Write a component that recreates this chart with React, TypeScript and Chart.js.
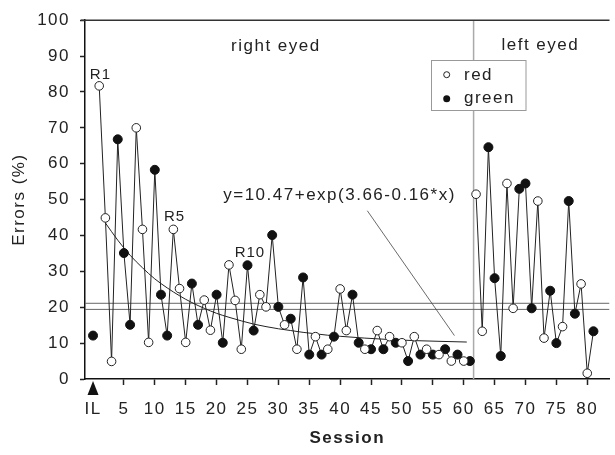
import React, { useEffect, useRef } from "react";
import { Chart, registerables } from "chart.js";

Chart.register(...registerables);

const FONT = '"Liberation Sans", Arial, Helvetica, sans-serif';

// Session 0 = initial learning (IL), green
const ilSession = 0;
const ilValue = 12.1;

// Right-eyed sessions 1..61
const rightStart = 1;
const rightValues = [
  81.7, 44.9, 4.9, 66.8, 35.1, 15.1, 70.0, 41.7, 10.2, 58.3,
  23.5, 12.1, 41.7, 25.2, 10.2, 26.6, 15.1, 22.0, 13.6, 23.5,
  10.1, 31.8, 21.9, 8.3, 31.7, 13.5, 23.5, 20.1, 40.1, 20.1,
  15.1, 16.8, 8.3, 28.3, 6.8, 11.8, 6.8, 8.3, 11.8, 25.1,
  13.5, 23.5, 10.1, 8.3, 8.3, 13.5, 8.3, 11.8, 10.1, 10.1,
  5.0, 11.8, 6.8, 8.3, 6.8, 6.8, 8.3, 5.0, 6.8, 5.0, 5.0,
];
const rightColors = "RRRGGGRRRGGGRRRGGRRGGRRRGGRRGGRGRGGRGRGRRGGRGRGRGRGRGRGRGRGRG".split("");

// Left-eyed sessions 62..81
const leftStart = 62;
const leftValues = [
  51.5, 13.3, 64.6, 28.1, 6.4, 54.5, 19.7, 53.0, 54.5, 19.7,
  49.6, 11.4, 24.6, 10.0, 14.6, 49.6, 18.2, 26.5, 1.6, 13.3,
];
const leftColors = "RRGGGRRGGGRRGGRGGRRG".split("");

// Fitted curve
const curveSessions = [2, 4, 6, 8, 10, 12, 14, 16, 18, 20, 22, 24, 26, 28, 30, 32, 34, 36, 38, 40, 44, 48, 52, 56, 60.5];
const curveValues = [43.5, 38.7, 34.5, 31.0, 27.9, 25.4, 23.2, 21.3, 19.7, 18.3, 17.2, 16.2, 15.3, 14.6, 14.0, 13.5, 13.0, 12.6, 12.2, 11.9, 11.4, 11.0, 10.7, 10.5, 10.3];

// Reference lines and divider
const refLevels = [21.1, 19.4];
const dividerSession = 61.6;

// Pointer from equation to curve
const pointerX = [44.4, 58.5];
const pointerY = [46.9, 12.1];

const xTickValues = [0, 5, 10, 15, 20, 25, 30, 35, 40, 45, 50, 55, 60, 65, 70, 75, 80];
const X_MIN = -1.3;
const X_MAX = 83.6;

const annotations = [
  { text: "right eyed", x: 29.6, y: 92.7, size: 17, spacing: "1.5px" },
  { text: "left eyed", x: 72.4, y: 93.1, size: 17, spacing: "1.5px" },
  { text: "R1", x: 1.2, y: 84.7, size: 15, spacing: "1px" },
  { text: "R5", x: 13.2, y: 45.2, size: 15, spacing: "1px" },
  { text: "R10", x: 25.4, y: 35.1, size: 15, spacing: "1px" },
  { text: "y=10.47+exp(3.66-0.16*x)", x: 39.9, y: 51.2, size: 17, spacing: "1.5px" },
];

const toPoints = (start: number, vals: number[]) => vals.map((v, i) => ({ x: start + i, y: v }));

const overlayPlugin = {
  id: "overlay",
  beforeLayout(chart: any) {
    chart.ctx.letterSpacing = "1.5px";
  },
  beforeDraw(chart: any) {
    chart.ctx.letterSpacing = "1.5px";
  },
  afterDatasetsDraw(chart: any) {
    const { ctx, chartArea, scales } = chart;
    const xs = scales.x;
    const ys = scales.y;
    ctx.save();
    // top frame
    ctx.strokeStyle = "#333";
    ctx.lineWidth = 1.5;
    ctx.beginPath();
    ctx.moveTo(chartArea.left - 4, chartArea.top);
    ctx.lineTo(chartArea.right, chartArea.top);
    ctx.stroke();

    // text annotations
    ctx.fillStyle = "#222";
    ctx.textAlign = "center";
    ctx.textBaseline = "middle";
    for (const a of annotations) {
      ctx.font = `${a.size}px ${FONT}`;
      ctx.letterSpacing = a.spacing;
      ctx.fillText(a.text, xs.getPixelForValue(a.x), ys.getPixelForValue(a.y));
    }

    // legend box
    ctx.letterSpacing = "1.5px";
    ctx.fillStyle = "#fff";
    ctx.strokeStyle = "#999";
    ctx.lineWidth = 1;
    ctx.fillRect(431.5, 60.5, 94.5, 50);
    ctx.strokeRect(431.5, 60.5, 94.5, 50);
    ctx.beginPath();
    ctx.arc(446.7, 74.7, 3, 0, Math.PI * 2);
    ctx.fillStyle = "#fff";
    ctx.fill();
    ctx.strokeStyle = "#222";
    ctx.stroke();
    ctx.beginPath();
    ctx.arc(446.7, 98.7, 3.5, 0, Math.PI * 2);
    ctx.fillStyle = "#111";
    ctx.fill();
    ctx.font = `17px ${FONT}`;
    ctx.textAlign = "left";
    ctx.fillStyle = "#222";
    ctx.fillText("red", 464, 75);
    ctx.fillText("green", 464, 98);

    // IL triangle marker
    const x0 = xs.getPixelForValue(ilSession);
    const b = chartArea.bottom;
    ctx.fillStyle = "#111";
    ctx.beginPath();
    ctx.moveTo(x0, b + 2);
    ctx.lineTo(x0 - 5.5, b + 16);
    ctx.lineTo(x0 + 5.5, b + 16);
    ctx.closePath();
    ctx.fill();
    ctx.restore();
  },
};

export default function App() {
  const canvasRef = useRef<HTMLCanvasElement | null>(null);

  useEffect(() => {
    document.body.style.margin = "0";
    const canvas = canvasRef.current;
    if (!canvas) return;

    const allPts = [
      { x: ilSession, y: ilValue, c: "G" },
      ...rightValues.map((v, i) => ({ x: rightStart + i, y: v, c: rightColors[i] })),
      ...leftValues.map((v, i) => ({ x: leftStart + i, y: v, c: leftColors[i] })),
    ];
    const redPts = allPts.filter((p) => p.c === "R").map((p) => ({ x: p.x, y: p.y }));
    const greenPts = allPts.filter((p) => p.c === "G").map((p) => ({ x: p.x, y: p.y }));

    const plainLine = (data: any[], color: string, width: number, order: number) => ({
      data,
      borderColor: color,
      borderWidth: width,
      pointRadius: 0,
      fill: false,
      tension: 0,
      order,
    });

    const chart = new Chart(canvas, {
      type: "line",
      data: {
        datasets: [
          ...refLevels.map((lv) =>
            plainLine([{ x: X_MIN, y: lv }, { x: X_MAX, y: lv }], "#666", 1, 30)
          ),
          plainLine([{ x: dividerSession, y: 0 }, { x: dividerSession, y: 100 }], "#aaa", 1.5, 30),
          {
            ...plainLine(curveSessions.map((s, i) => ({ x: s, y: curveValues[i] })), "#222", 1, 20),
            cubicInterpolationMode: "monotone",
          },
          plainLine(pointerX.map((s, i) => ({ x: s, y: pointerY[i] })), "#444", 0.8, 20),
          plainLine(toPoints(rightStart, rightValues), "#222", 1, 10),
          plainLine(toPoints(leftStart, leftValues), "#222", 1, 10),
          {
            label: "red",
            data: redPts,
            showLine: false,
            pointRadius: 4.3,
            pointBackgroundColor: "#fff",
            pointBorderColor: "#222",
            pointBorderWidth: 1,
            order: 1,
          },
          {
            label: "green",
            data: greenPts,
            showLine: false,
            pointRadius: 4.5,
            pointBackgroundColor: "#111",
            pointBorderColor: "#111",
            pointBorderWidth: 1,
            order: 1,
          },
        ] as any,
      },
      options: {
        responsive: false,
        animation: false,
        devicePixelRatio: 1,
        layout: { padding: { top: 15, left: 0, right: 0, bottom: 0 } },
        plugins: { legend: { display: false }, tooltip: { enabled: false } },
        scales: {
          x: {
            type: "linear",
            min: X_MIN,
            max: X_MAX,
            afterBuildTicks: (s: any) => {
              s.ticks = xTickValues.map((v) => ({ value: v }));
            },
            afterFit: (s: any) => {
              s.height = 76;
            },
            grid: {
              drawOnChartArea: false,
              drawTicks: true,
              tickLength: 6,
              tickWidth: 1.5,
              tickColor: (c: any) => (c.tick && c.tick.value === 0 ? "rgba(0,0,0,0)" : "#222"),
            },
            border: { display: true, color: "#111", width: 1.5 },
            ticks: {
              autoSkip: false,
              maxRotation: 0,
              padding: 14,
              color: "#222",
              font: { family: FONT, size: 17 },
              callback: (v: any) => (v === 0 ? "IL" : String(v)),
            },
            title: {
              display: true,
              text: "Session",
              color: "#222",
              font: { family: FONT, size: 17, weight: "bold" },
              padding: { top: 0, bottom: 6 },
            },
          },
          y: {
            type: "linear",
            min: 0,
            max: 100,
            afterFit: (s: any) => {
              s.width = 85;
            },
            grid: {
              drawOnChartArea: false,
              drawTicks: true,
              tickLength: 5,
              tickWidth: 1.5,
              tickColor: "#222",
            },
            border: { display: true, color: "#111", width: 1.5 },
            ticks: {
              stepSize: 10,
              padding: 10,
              color: "#222",
              font: { family: FONT, size: 17 },
            },
            title: {
              display: true,
              text: "Errors (%)",
              color: "#222",
              font: { family: FONT, size: 17 },
              padding: { top: 9, bottom: 0 },
            },
          },
        },
      } as any,
      plugins: [overlayPlugin],
    });

    return () => chart.destroy();
  }, []);

  return (
    <div style={{ position: "absolute", left: 0, top: 0, width: 615, height: 455 }}>
      <canvas ref={canvasRef} width={615} height={455} style={{ display: "block" }} />
    </div>
  );
}
